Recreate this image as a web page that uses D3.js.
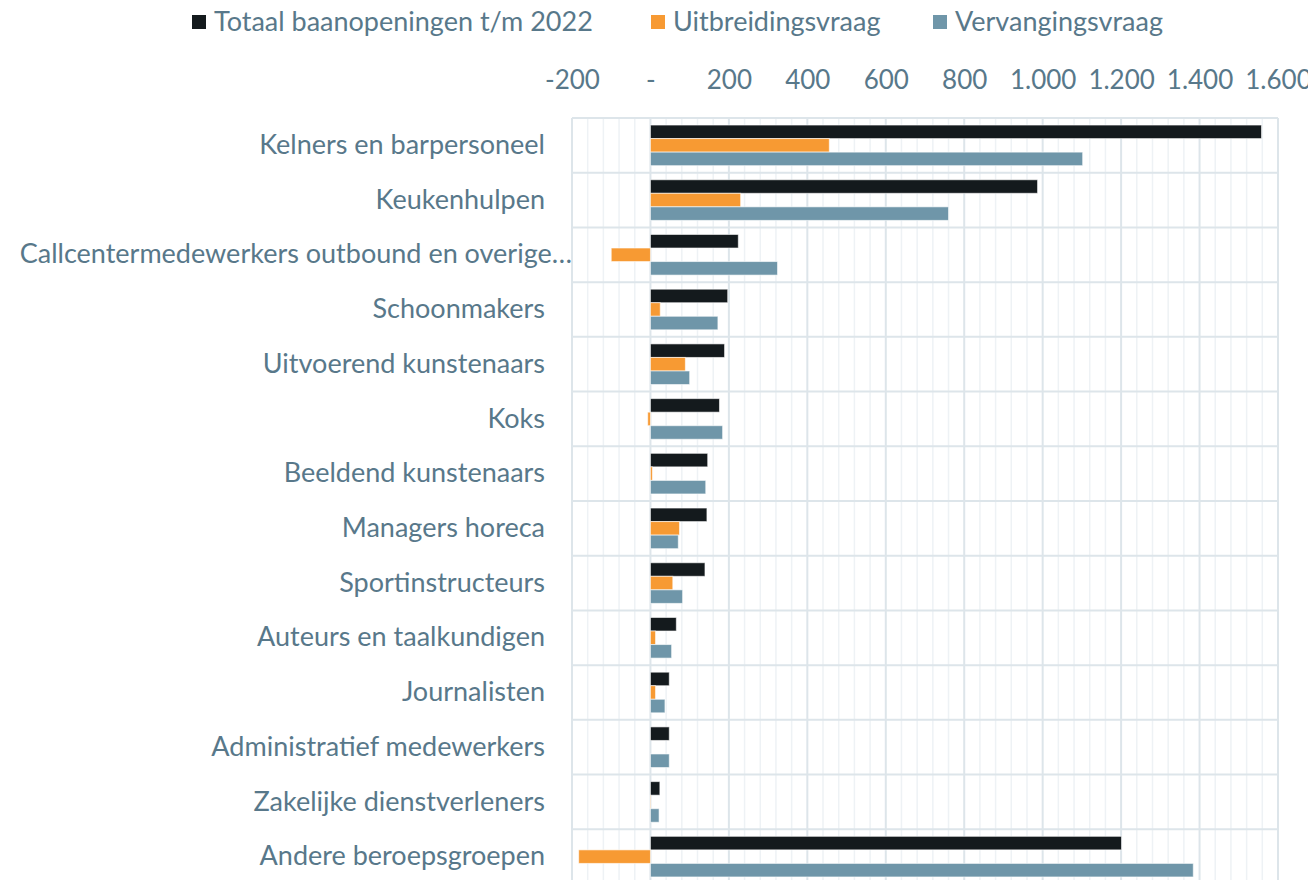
<!DOCTYPE html>
<html>
<head>
<meta charset="utf-8">
<script src="https://cdn.jsdelivr.net/npm/d3@7"></script>
<style>
  body { margin: 0; background: #fff; }
  text { font-family: Lato, "Open Sans", sans-serif; fill: #58788a; }
</style>
</head>
<body>
<svg id="chart" width="1308" height="880"></svg>
<script>
// data
var categories = ["Kelners en barpersoneel", "Keukenhulpen", "Callcentermedewerkers outbound en overige\u2026",
  "Schoonmakers", "Uitvoerend kunstenaars", "Koks", "Beeldend kunstenaars", "Managers horeca",
  "Sportinstructeurs", "Auteurs en taalkundigen", "Journalisten", "Administratief medewerkers",
  "Zakelijke dienstverleners", "Andere beroepsgroepen"];
var series = ["Totaal baanopeningen t/m 2022", "Uitbreidingsvraag", "Vervangingsvraag"];
var totaal      = [1558, 987, 224, 197, 189, 176, 146, 144, 139, 66, 48, 48, 24, 1201];
var uitbreiding = [456, 230, -100, 25, 89, -7, 5, 74, 57, 13, 13, 0, -1, -183];
var vervanging  = [1102, 760, 324, 172, 100, 184, 141, 71, 82, 54, 37, 48, 22, 1384];
var tickValues = [-200, 0, 200, 400, 600, 800, 1000, 1200, 1400, 1600];
var colors = ["#141a1d", "#f79a33", "#6f96a9"];

var values = [totaal, uitbreiding, vervanging];
var rows = categories.map(function(c, i){
  return {cat: c, vals: series.map(function(s, j){ return {s: s, v: values[j][i]}; })};
});

var svg = d3.select("#chart");

var x = d3.scaleLinear().domain([-200, 1600]).range([572, 1278]);
var y0 = d3.scaleBand().domain(categories).range([118, 884]).padding(0);
var y1 = d3.scaleBand().domain(series).range([0, y0.bandwidth()]).paddingOuter(0.52).paddingInner(0);

var nl = d3.formatLocale({decimal: ",", thousands: ".", grouping: [3], currency: ["€", ""], minus: "-"});
var fmt = nl.format(",d");

// minor grid
svg.append("g").selectAll("line")
  .data(d3.range(-200, 1601, 40).filter(function(d){ return d % 200 != 0; }))
  .enter().append("line")
  .attr("x1", function(d){ return x(d); }).attr("x2", function(d){ return x(d); })
  .attr("y1", 118).attr("y2", 884)
  .attr("stroke", "#eef2f5").attr("stroke-width", 1.5);

// major grid
svg.append("g").selectAll("line")
  .data(tickValues)
  .enter().append("line")
  .attr("x1", function(d){ return x(d); }).attr("x2", function(d){ return x(d); })
  .attr("y1", 118).attr("y2", 884)
  .attr("stroke", "#dde5ea").attr("stroke-width", 2);

// row lines
svg.append("g").selectAll("line")
  .data(categories.concat(["end"]))
  .enter().append("line")
  .attr("x1", x(-200)).attr("x2", x(1600))
  .attr("y1", function(d, i){ return 118 + i * y0.step(); })
  .attr("y2", function(d, i){ return 118 + i * y0.step(); })
  .attr("stroke", "#dde5ea").attr("stroke-width", 2);

// bars
var groups = svg.append("g").selectAll("g")
  .data(rows).enter().append("g")
  .attr("transform", function(d){ return "translate(0," + y0(d.cat) + ")"; });

groups.selectAll("rect")
  .data(function(d){ return d.vals; })
  .enter().append("rect")
  .attr("x", function(d){ return x(Math.min(0, d.v)); })
  .attr("y", function(d){ return y1(d.s); })
  .attr("width", function(d){ return Math.abs(x(d.v) - x(0)); })
  .attr("height", y1.bandwidth())
  .attr("fill", function(d, i){ return colors[i]; })
  .attr("stroke", "#ffffff").attr("stroke-opacity", 0.6).attr("stroke-width", 1);

// y axis labels
var yAxis = d3.axisLeft(y0).tickSize(0).tickPadding(0);
var ya = svg.append("g").attr("transform", "translate(545,0)").call(yAxis);
ya.select(".domain").remove();
ya.selectAll("text").style("font-size", "27px").attr("fill", "#58788a")
  .attr("dx", function(d){ return d.indexOf("\u2026") > -1 ? 27 : 0; });

// x axis on top
var xAxis = d3.axisTop(x).tickValues(tickValues).tickSize(0).tickPadding(0)
  .tickFormat(function(d){ return d === 0 ? "-" : fmt(d); });
var xa = svg.append("g").attr("transform", "translate(0,89)").call(xAxis);
xa.select(".domain").remove();
xa.selectAll("text").style("font-size", "26px").attr("fill", "#58788a");

// legend
var legX = [192, 651, 933];
var leg = svg.append("g").selectAll("g")
  .data(series).enter().append("g")
  .attr("transform", function(d, i){ return "translate(" + legX[i] + ",22)"; });
leg.append("rect").attr("x", 0).attr("y", -7).attr("width", 14).attr("height", 14)
  .attr("fill", function(d, i){ return colors[i]; });
leg.append("text").attr("x", 22).attr("dy", "0.35em")
  .style("font-size", "27px").text(function(d){ return d; });
</script>
</body>
</html>
